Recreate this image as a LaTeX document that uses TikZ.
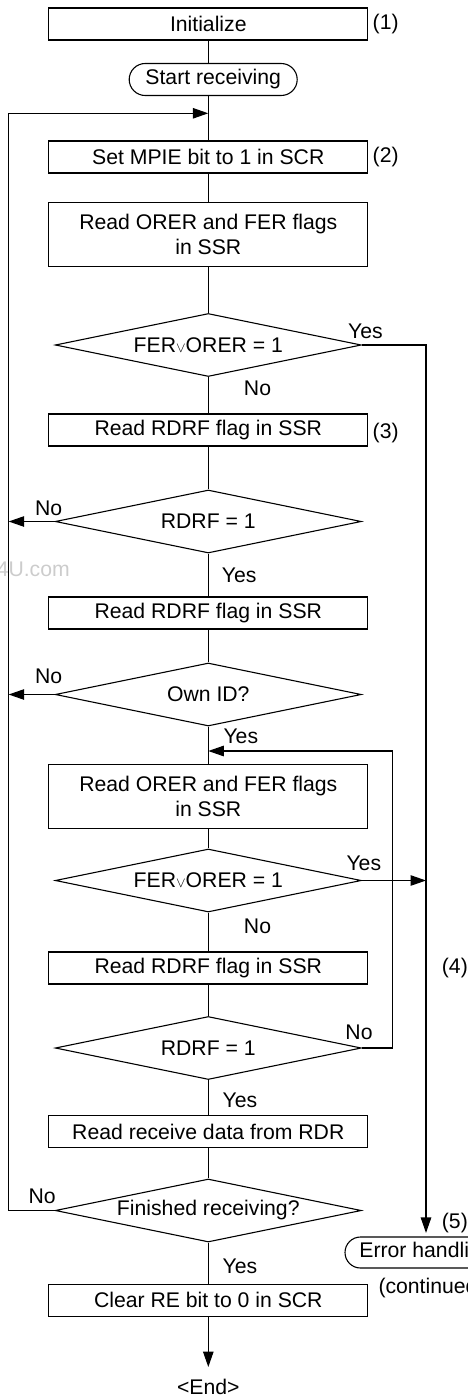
\documentclass[tikz,border=0pt]{standalone}
\usepackage{fontspec}
\setmainfont{Liberation Sans}
\usetikzlibrary{shapes.geometric,shapes.misc,arrows.meta,calc}
\newcommand{\vorsym}{\raisebox{0.3pt}{\fontsize{14}{14}\selectfont$\vee$}}
\begin{document}
\begin{tikzpicture}[x=1pt,y=-1pt,
  every node/.style={font=\fontsize{21.2}{25}\selectfont, inner sep=0pt},
  line/.style={line width=1.1pt},
  box/.style={draw, line width=1.1pt, minimum width=319pt, minimum height=32pt, align=center},
  term/.style={draw, line width=1.1pt, rounded rectangle, minimum height=32pt},
  dec/.style={draw, line width=1.1pt, diamond, shape aspect=4.86, minimum width=306pt, minimum height=63pt},
  arr/.style={line width=1.1pt, -{Triangle[length=15.5pt,width=10.5pt]}},
  lbl/.style={inner sep=0pt}
]
\useasboundingbox (0,0) rectangle (468,1397);
\clip (0,0) rectangle (468,1397);

% watermark
\node[lbl, anchor=east, text=gray!40] (wm) at (70,569) {4U.com};

% main chain
\node[box] (init) at (208.3,24) {Initialize};
\node[term, minimum width=168pt] (start) at (213.2,79.5) {Start receiving};
\node[box] (mpie) at (208.3,157) {Set MPIE bit to 1 in SCR};
\node[box, minimum height=63.5pt] (orer1) at (208.3,234.3) {Read ORER and FER flags\\in SSR};
\node[dec] (d1) at (208.3,345) {FER\vorsym ORER = 1};
\node[box] (rdrf1) at (208.3,430) {Read RDRF flag in SSR};
\node[dec] (d2) at (208.3,521.5) {RDRF = 1};
\node[box] (rdrf2) at (208.3,613) {Read RDRF flag in SSR};
\node[dec] (d3) at (208.3,694.5) {Own ID?};
\node[box, minimum height=64pt] (orer2) at (208.3,796.3) {Read ORER and FER flags\\in SSR};
\node[dec] (d4) at (208.3,880.5) {FER\vorsym ORER = 1};
\node[box] (rdrf3) at (208.3,968) {Read RDRF flag in SSR};
\node[dec] (d5) at (208.3,1048) {RDRF = 1};
\node[box] (rrd) at (208.3,1131.5) {Read receive data from RDR};
\node[dec] (d6) at (208.3,1210.5) {Finished receiving?};
\node[box] (clear) at (208.3,1300.3) {Clear RE bit to 0 in SCR};
\node[lbl] (end) at (208.3,1386.5) {<End>};
\node[term, minimum width=162pt, minimum height=31pt] (err) at (426,1252.5) {Error handling};

% step numbers
\node[lbl, anchor=west] (p1) at (372.5,24) {(1)};
\node[lbl, anchor=west] (p2) at (372.5,157) {(2)};
\node[lbl, anchor=west] (p3) at (372.5,433) {(3)};
\node[lbl, anchor=west] (p4) at (441.7,968) {(4)};
\node[lbl, anchor=west] (p5) at (441.7,1223.3) {(5)};
\node[lbl, anchor=west] (cont) at (378.3,1288) {(continued)};

% yes / no labels
\node[lbl] (y1) at (365.5,331.7) {Yes};
\node[lbl] (n1) at (257.5,388) {No};
\node[lbl] (n2) at (48.7,508) {No};
\node[lbl] (y2) at (239.2,575) {Yes};
\node[lbl] (n3) at (48.7,676.7) {No};
\node[lbl] (y3) at (240.8,736.7) {Yes};
\node[lbl] (y4) at (363.8,863) {Yes};
\node[lbl] (n4) at (257.5,926) {No};
\node[lbl] (n5) at (359,1032.3) {No};
\node[lbl] (y5) at (240,1100) {Yes};
\node[lbl] (n6) at (42.2,1196.7) {No};
\node[lbl] (y6) at (240,1266) {Yes};

% helper coordinates
\coordinate (j1) at (208.3,113.3);
\coordinate (L) at (8.7,113.3);
\coordinate (j2) at (208.3,751);
\coordinate (Q) at (392.3,751);

% connectors
\draw[line] (init.south) -- (init.south |- start.north);
\draw[line] (start.south -| mpie.north) -- (mpie.north);
\draw[arr] (d6.west) -| (L) -- (j1);
\draw[line] (mpie) -- (orer1) -- (d1) -- (rdrf1) -- (d2) -- (rdrf2) -- (d3) -- (orer2) -- (d4) -- (rdrf3) -- (d5) -- (rrd) -- (d6) -- (clear);
\draw[arr, shorten >=11.5pt] (clear) -- (end);
\draw[arr, shorten >=3.5pt] (d1.east) -| (err.north);
\draw[arr] (d4.east) -- (d4.east -| err.north);
\draw[arr] (d2.west) -- (d2.west -| L);
\draw[arr] (d3.west) -- (d3.west -| L);
\draw[arr] (d5.east) -| (Q) -- (j2);
\end{tikzpicture}
\end{document}
